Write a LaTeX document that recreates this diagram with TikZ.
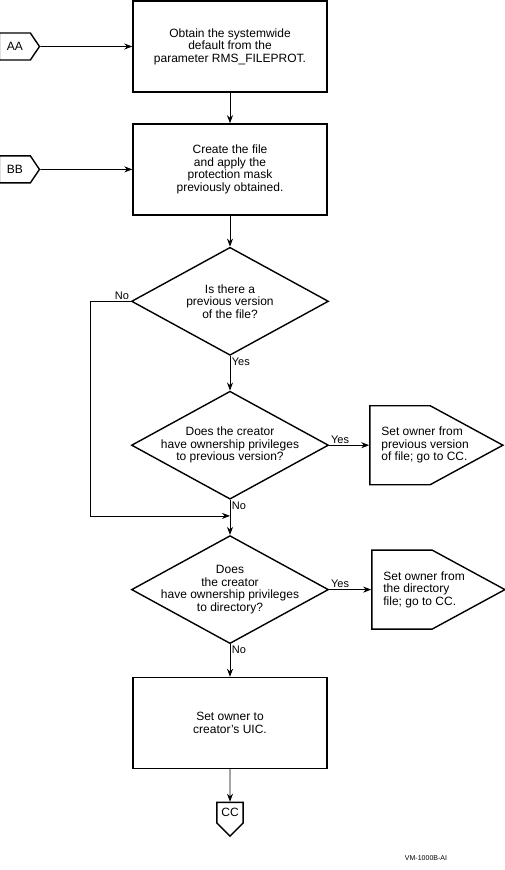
\documentclass[tikz,border=0pt]{standalone}
\usepackage{fontspec}
\setmainfont{Liberation Sans}
\usetikzlibrary{arrows.meta, positioning, shapes.geometric, shapes.symbols}
\tikzset{
  procbox/.style={rectangle, draw, line width=1.4pt, minimum width=194pt, minimum height=91pt,
    align=center, inner sep=0pt},
  decide/.style={diamond, draw, line width=1.4pt, minimum width=197pt, minimum height=108pt, inner sep=0pt},
  dtext/.style={align=center, inner sep=0pt},
  offpage/.style={signal, draw, line width=1.4pt, minimum height=27pt, inner xsep=7.5pt,
    signal to=east, signal pointer angle=112},
  outcome/.style={signal, draw, line width=1.4pt, minimum width=133pt, minimum height=79pt,
    signal to=east, signal pointer angle=57},
  otext/.style={anchor=west, align=left, inner sep=0pt, xshift=12pt},
  arr/.style={-{Stealth[length=8pt, width=6pt]}, line width=0.8pt},
  tag/.style={inner sep=1.5pt, font=\fontsize{11}{12}\selectfont},
}
\begin{document}
\begin{tikzpicture}[x=1pt, y=1pt, font=\fontsize{12}{12.5}\selectfont]
  \useasboundingbox (0,0) rectangle (505,-870);
  % main column
  \node[procbox] (obtain) at (230,-46.5) {Obtain the systemwide\\default from the\\parameter RMS\_FILEPROT.};
  \node[procbox, below=30.5pt of obtain] (create) {Create the file\\and apply the\\protection mask\\previously obtained.};
  \node[decide, below=31pt of create, label={[dtext]center:Is there a\\previous version\\of the file?}] (prev) {};
  \node[decide, below=34.5pt of prev, label={[dtext]center:Does the creator\\have ownership privileges\\to previous version?}] (priv) {};
  \node[decide, below=35pt of priv, label={[dtext]center:Does\\the creator\\have ownership privileges\\to directory?}] (dir) {};
  \node[procbox, below=32.5pt of dir] (uic) {Set owner to\\creator's UIC.};
  \node[offpage, signal to=south, signal pointer angle=90, minimum height=0pt, minimum width=26pt,
    inner xsep=4.5pt, inner ysep=6pt, below=32.5pt of uic] (cc) {CC};
  % connectors and outcomes
  \node[offpage, left=92pt of obtain] (aa) {AA};
  \node[offpage, left=92pt of create] (bb) {BB};
  \node[outcome, right=40pt of priv, label={[otext]west:Set owner from\\previous version\\of file; go to CC.}] (ownprev) {};
  \node[outcome, right=42pt of dir, label={[otext]west:Set owner from\\the directory\\file; go to CC.}] (owndir) {};
  \coordinate[below=16pt of priv.south] (join);
  \node[font=\fontsize{7}{8}\selectfont] (credit) at (426,-858) {VM-1000B-AI};

  \draw[arr] (aa) -- (obtain);
  \draw[arr] (bb) -- (create);
  \draw[arr] (obtain) -- (create);
  \draw[arr] (create) -- (prev);
  \draw[arr] (prev.south) node[tag, below right] {Yes} -- (priv.north);
  \draw[arr] (prev.west) node[tag, above left] {No} -- ++(-40,0) |- (join);
  \draw[arr] (priv.east) node[tag, above right] {Yes} -- (ownprev);
  \draw[arr] (priv.south) node[tag, below right] {No} -- (dir.north);
  \draw[arr] (dir.east) node[tag, above right] {Yes} -- (owndir);
  \draw[arr] (dir.south) node[tag, below right] {No} -- (uic);
  \draw[arr] (uic) -- (cc);
\end{tikzpicture}
\end{document}
